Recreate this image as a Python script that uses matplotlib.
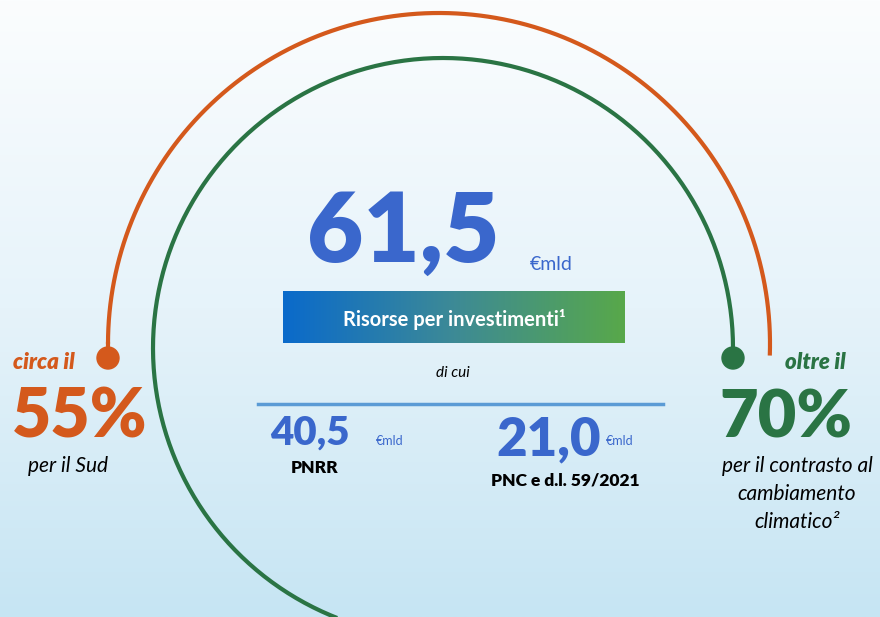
import numpy as np
import matplotlib
matplotlib.use('Agg')
import matplotlib.pyplot as plt
from matplotlib.colors import LinearSegmentedColormap
from matplotlib.patches import Circle

# dati
totale = '61,5'
totale_label = 'Risorse per investimenti\u00b9'
quote_valori = ['40,5', '21,0']
quote_nomi = ['PNRR', 'PNC e d.l. 59/2021']
sud_pct = '55%'
clima_pct = '70%'
unita = '\u20acmld'

BLUE = '#3a67cc'
ORANGE = '#d4591c'
GREEN = '#2a7444'
W, H = 880, 617
HEAVY = 'heavy'

plt.rcParams['font.family'] = ['Lato', 'DejaVu Sans']

fig = plt.figure(figsize=(8.8, 6.17), dpi=100)
ax = fig.add_axes([0, 0, 1, 1])
ax.set_xlim(0, W)
ax.set_ylim(H, 0)
ax.axis('off')

# sfondo sfumato
bg = LinearSegmentedColormap.from_list('bg', ['#fbfdfe', '#e6f3fa', '#c6e5f3'])
grad = np.linspace(0, 1, 256).reshape(-1, 1)
ax.imshow(grad, cmap=bg, extent=[0, W, H, 0], aspect='auto', zorder=0)

def arco(cx, cy, r, t0, t1, color):
    t = np.radians(np.linspace(t0, t1, 400))
    ax.plot(cx + r * np.cos(t), cy - r * np.sin(t), color=color, lw=3.0,
            solid_capstyle='butt', zorder=2)

# arco arancione (Sud) e verde (clima)
arco(439, 344, 331, -2.0, 180, ORANGE)
ax.plot([108, 108], [344, 358], color=ORANGE, lw=3.0, zorder=2)
ax.add_patch(Circle((108, 358), 11, color=ORANGE, zorder=3))

arco(443, 348, 290, -2.0, 253, GREEN)
ax.add_patch(Circle((733, 358), 11, color=GREEN, zorder=3))

# totale
ax.text(403, 262, totale, color=BLUE, fontsize=70, fontweight=HEAVY,
        ha='center', va='baseline', zorder=4)
ax.text(530, 270, unita, color=BLUE, fontsize=14, ha='left', va='baseline', zorder=4)

# box sfumato
box = LinearSegmentedColormap.from_list('box', ['#0a6acb', '#3d8a96', '#58a84a'])
gx = np.linspace(0, 1, 256).reshape(1, -1)
ax.imshow(gx, cmap=box, extent=[283, 625, 343, 291], aspect='auto', zorder=3)
ax.text(454, 319, totale_label, color='white', fontsize=14.5, fontweight='bold',
        ha='center', va='center', zorder=4)

ax.text(453, 373, 'di cui', color='black', fontsize=11, style='italic',
        ha='center', va='center', zorder=4)
ax.plot([258, 663], [404, 404], color='#5b9bd5', lw=2.5, zorder=3)

# quote
ax.text(310, 445, quote_valori[0], color=BLUE, fontsize=29, fontweight=HEAVY,
        ha='center', va='baseline', zorder=4)
ax.text(376, 445, unita, color=BLUE, fontsize=9, ha='left', va='baseline', zorder=4)
ax.text(315, 473, quote_nomi[0], color='black', fontsize=12.5, fontweight=HEAVY,
        ha='center', va='baseline', zorder=4)

ax.text(549, 455, quote_valori[1], color=BLUE, fontsize=38, fontweight=HEAVY,
        ha='center', va='baseline', zorder=4)
ax.text(606, 445, unita, color=BLUE, fontsize=9, ha='left', va='baseline', zorder=4)
ax.text(565, 485, quote_nomi[1], color='black', fontsize=12.5, fontweight=HEAVY,
        ha='center', va='baseline', zorder=4)

# lato sinistro
ax.text(44, 369, 'circa il', color=ORANGE, fontsize=16, fontweight=HEAVY,
        style='italic', ha='center', va='baseline', zorder=4)
ax.text(80, 437, sud_pct, color=ORANGE, fontsize=49, fontweight=HEAVY,
        ha='center', va='baseline', zorder=4)
ax.text(68, 472, 'per il Sud', color='black', fontsize=15, style='italic',
        ha='center', va='baseline', zorder=4)

# lato destro
ax.text(815, 369, 'oltre il', color=GREEN, fontsize=16, fontweight=HEAVY,
        style='italic', ha='center', va='baseline', zorder=4)
ax.text(786, 438, clima_pct, color=GREEN, fontsize=48, fontweight=HEAVY,
        ha='center', va='baseline', zorder=4)
for i, riga in enumerate(['per il contrasto al', 'cambiamento', 'climatico\u00b2']):
    ax.text(797, 472 + i * 28, riga, color='black', fontsize=15, style='italic',
            ha='center', va='baseline', zorder=4)

fig.savefig('out.png', dpi=100)
